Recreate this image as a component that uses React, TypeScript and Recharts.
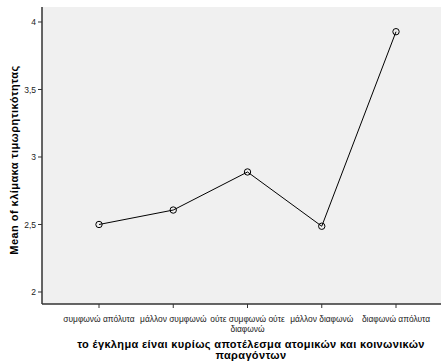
import { LineChart, Line, XAxis, YAxis, CartesianGrid } from "recharts"

const categories = [
  "συμφωνώ απόλυτα",
  "μάλλον συμφωνώ",
  "ούτε συμφωνώ ούτε διαφωνώ",
  "μάλλον διαφωνώ",
  "διαφωνώ απόλυτα"
]
const means = [2.5, 2.607, 2.889, 2.487, 3.928]
const yTicks = [2, 2.5, 3, 3.5, 4]

const data = categories.map((c, i) => ({ cat: c, mean: means[i] }))

const font = "'Liberation Sans', Arial, sans-serif"

// greedy wrap on word boundaries, ~18 chars per line
const wrap = (s: string, max = 18) => {
  const lines: string[] = []
  let cur = ""
  s.split(" ").forEach((w) => {
    const next = cur ? cur + " " + w : w
    if (next.length > max && cur) {
      lines.push(cur)
      cur = w
    } else cur = next
  })
  if (cur) lines.push(cur)
  return lines
}

const CatTick = (props: any) => {
  const { x, y, payload } = props
  return (
    <text
      x={x}
      y={y + 12}
      textAnchor="middle"
      fontSize={8.4}
      fontFamily={font}
      fill="#222"
    >
      {wrap(payload.value).map((l, i) => (
        <tspan key={i} x={x} dy={i === 0 ? 0 : 10}>
          {l}
        </tspan>
      ))}
    </text>
  )
}

export default function App() {
  return (
    <div style={{ position: "absolute", left: 0, top: 0, width: 444, height: 364, background: "#fff" }}>
      <LineChart
        width={444}
        height={364}
        data={data}
        margin={{ top: 7, right: 3, bottom: 0, left: 0 }}
      >
        <CartesianGrid fill="#f0f0f0" horizontal={false} vertical={false} />
        <XAxis
          dataKey="cat"
          height={60}
          padding={{ left: 57, right: 45 }}
          tick={<CatTick />}
          interval={0}
          tickSize={4}
          axisLine={{ stroke: "#333", strokeWidth: 1.5 }}
          tickLine={{ stroke: "#333" }}
        />
        <XAxis
          xAxisId="top"
          orientation="top"
          dataKey="cat"
          height={0}
          tick={false}
          tickLine={false}
          axisLine={{ stroke: "#333", strokeWidth: 1.5 }}
        />
        <YAxis
          width={42}
          domain={[1.911, 4.111]}
          ticks={yTicks}
          tickFormatter={(v: number) => String(v).replace(".", ",")}
          tickSize={4}
          tick={{ fontSize: 8.5, fontFamily: font, fill: "#222" }}
          axisLine={{ stroke: "#333", strokeWidth: 1.5 }}
          tickLine={{ stroke: "#333" }}
          allowDataOverflow
        />
        <YAxis
          yAxisId="right"
          orientation="right"
          width={0}
          tick={false}
          tickLine={false}
          axisLine={{ stroke: "#333", strokeWidth: 1.5 }}
        />
        <Line
          dataKey="mean"
          stroke="#000"
          strokeWidth={1}
          isAnimationActive={false}
          dot={{ r: 3.2, stroke: "#000", strokeWidth: 1, fill: "none" }}
        />
      </LineChart>
      <div
        style={{
          position: "absolute",
          left: 14,
          top: 160,
          transform: "translate(-50%, -50%) rotate(-90deg)",
          whiteSpace: "nowrap",
          fontFamily: font,
          fontWeight: "bold",
          fontSize: 11,
          letterSpacing: 0.45,
          color: "#000"
        }}
      >
        Mean of κλίμακα τιμωρητικότητας
      </div>
      <div
        style={{
          position: "absolute",
          left: 51,
          width: 400,
          top: 339,
          textAlign: "center",
          whiteSpace: "nowrap",
          fontFamily: font,
          fontWeight: "bold",
          fontSize: 11,
          letterSpacing: 0.35,
          lineHeight: "11px",
          color: "#000"
        }}
      >
        το έγκλημα είναι κυρίως αποτέλεσμα ατομικών και κοινωνικών
        <br />
        παραγόντων
      </div>
    </div>
  )
}
